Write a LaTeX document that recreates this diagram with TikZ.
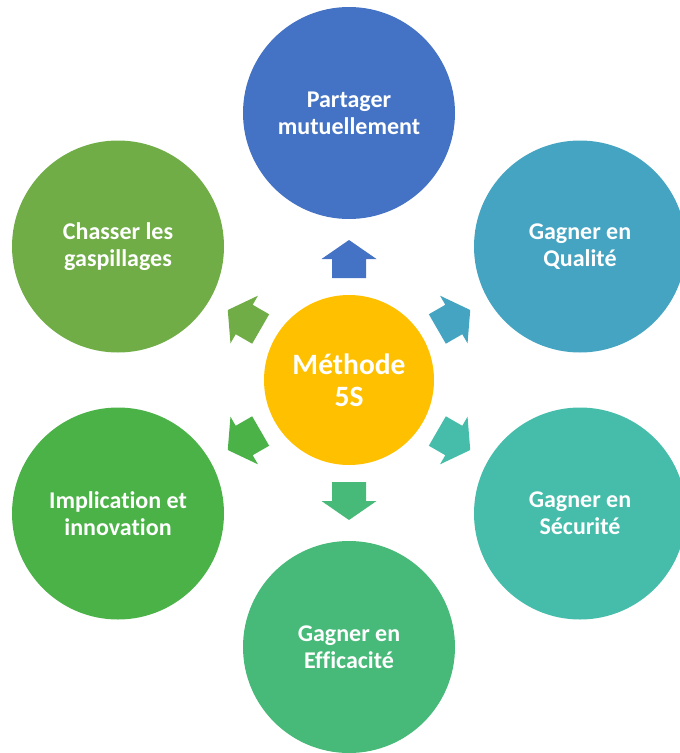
\documentclass[tikz,border=0pt]{standalone}
\usepackage{fontspec}
\setmainfont{Carlito}[Ligatures={NoCommon}]
\definecolor{cA}{RGB}{68,114,196}
\definecolor{cB}{RGB}{68,164,194}
\definecolor{cC}{RGB}{69,189,170}
\definecolor{cD}{RGB}{71,185,120}
\definecolor{cE}{RGB}{75,178,72}
\definecolor{cF}{RGB}{112,173,71}
\definecolor{cM}{RGB}{255,192,0}
\begin{document}
\begin{tikzpicture}[x=1pt,y=-1pt,
  outer/.style={circle, minimum size=212pt, inner sep=0pt, text=white,
    font=\bfseries\fontsize{24}{27}\selectfont, align=center},
  mid/.style={circle, minimum size=170pt, inner sep=0pt, text=white,
    font=\bfseries\fontsize{29.5}{32}\selectfont, align=center}]
\useasboundingbox (0,0) rectangle (680,753);
\node[mid, fill=cM] (m) at (349,380) {Méthode\\5S};
\node[outer, fill=cA] (a) at (349,113) {Partager\\mutuellement};
\node[outer, fill=cB] (b) at (580,246.5) {Gagner en\\Qualité};
\node[outer, fill=cC] (c) at (580,513.5) {Gagner en\\Sécurité};
\node[outer, fill=cD] (d) at (349,647) {Gagner en\\Efficacité};
\node[outer, fill=cE] (e) at (118,513.5) {Implication et\\innovation};
\node[outer, fill=cF] (f) at (118,246.5) {Chasser les\\gaspillages};
\foreach \ang/\col in {90/cA,30/cB,-30/cC,-90/cD,-150/cE,150/cF}{
  \fill[\col, shift={(m.center)}, rotate=\ang]
    (102,-17) -- (121,-17) -- (121,-27.5) -- (140,0) -- (121,27.5)
    -- (121,17) -- (102,17) -- cycle;
}
\end{tikzpicture}
\end{document}
